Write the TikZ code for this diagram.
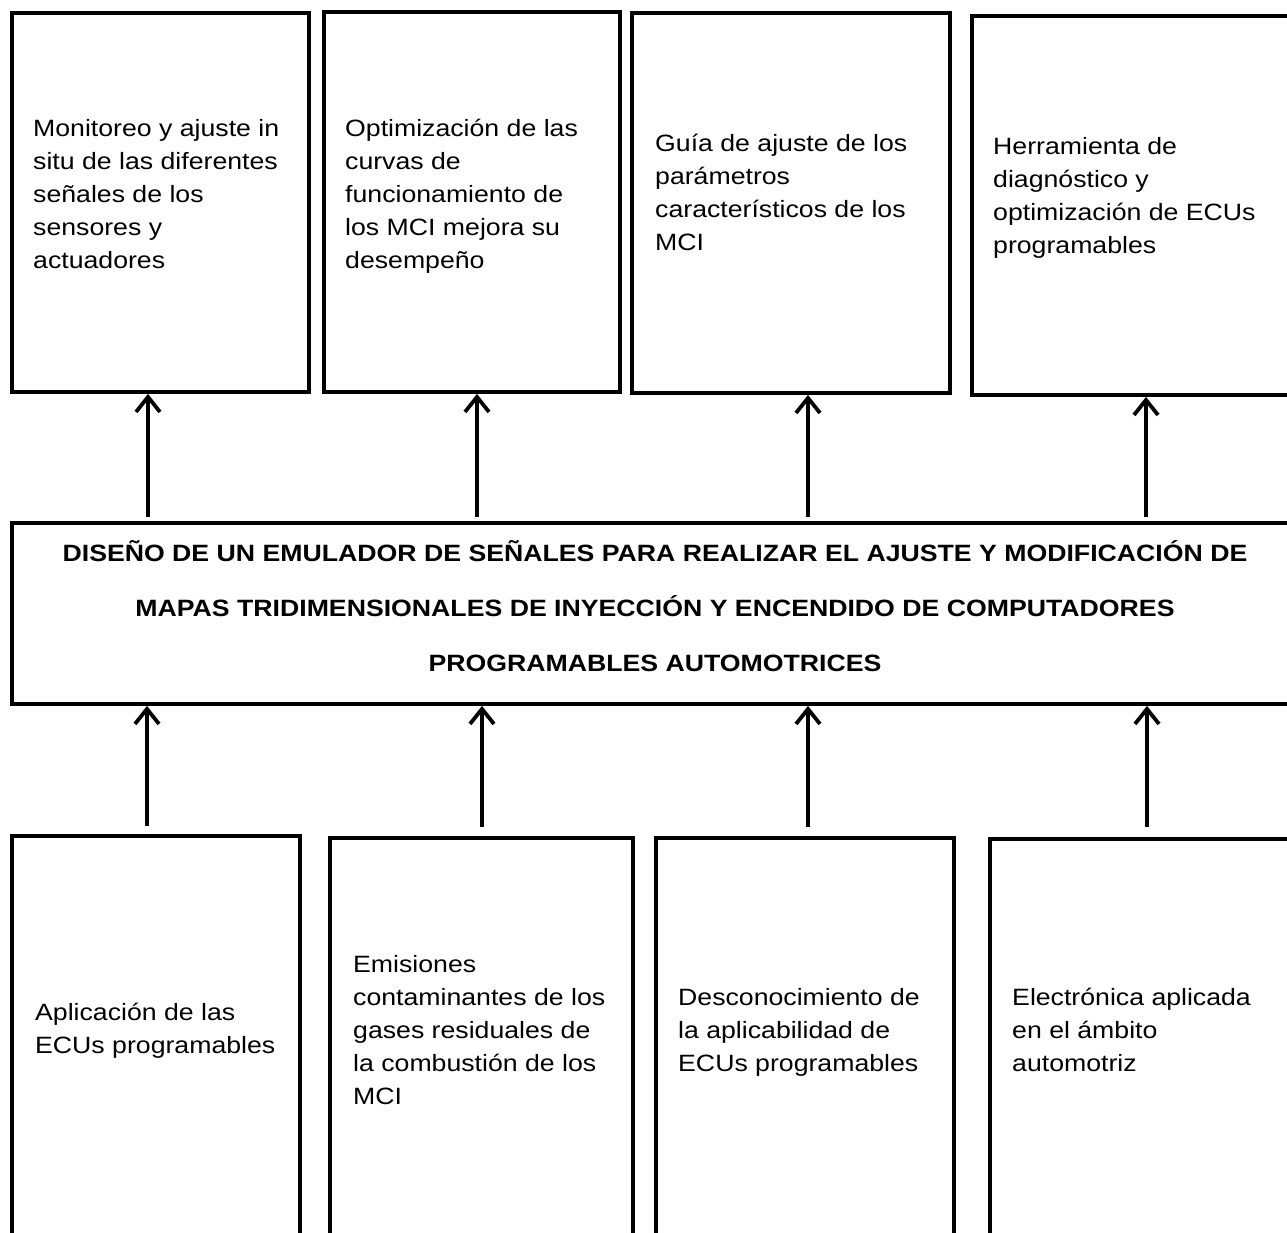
\documentclass[tikz,border=0pt]{standalone}
\usepackage{fontspec}
\setmainfont{Liberation Sans}[FakeStretch=1.13]
\usetikzlibrary{arrows.meta}
\tikzset{
  box/.style={draw=black, line width=3.8pt, fill=none, inner sep=0pt},
  txt/.style={anchor=north west, align=left, inner sep=0pt, font=\fontsize{23.6}{33}\selectfont},
  ttl/.style={anchor=north, align=center, inner sep=0pt, font=\fontsize{23.6}{55}\selectfont\bfseries},
  arr/.style={line width=3.8pt, -{Straight Barb[length=15pt,width=24pt,line width=3.8pt]}}
}
\begin{document}
\begin{tikzpicture}[x=1pt,y=-1pt]
\useasboundingbox (0,0) rectangle (1287,1233);
% top boxes
\node[box, minimum width=297pt, minimum height=379pt] (t1) at (160.5,202.5) {};
\node[box, minimum width=296pt, minimum height=380pt] (t2) at (472,202) {};
\node[box, minimum width=318pt, minimum height=380pt] (t3) at (791,203) {};
\node[box, minimum width=330pt, minimum height=379pt] (t4) at (1137,205.5) {};
% middle box
\node[box, minimum width=1290pt, minimum height=181pt] (m) at (657,613.5) {};
% bottom boxes
\node[box, minimum width=288pt, minimum height=420pt] (b1) at (156,1046) {};
\node[box, minimum width=303pt, minimum height=420pt] (b2) at (481.5,1048) {};
\node[box, minimum width=298pt, minimum height=420pt] (b3) at (805,1048) {};
\node[box, minimum width=320pt, minimum height=420pt] (b4) at (1150,1049) {};
% texts
\node[txt] (t1x) at (33,136-23.1) {\strut Monitoreo y ajuste in\\situ de las diferentes\\señales de los\\sensores y\\actuadores};
\node[txt] (t2x) at (345,136-23.1) {\strut Optimización de las\\curvas de\\funcionamiento de\\los MCI mejora su\\desempeño};
\node[txt] (t3x) at (655,151-23.1) {\strut Guía de ajuste de los\\parámetros\\característicos de los\\MCI};
\node[txt] (t4x) at (993,154-23.1) {\strut Herramienta de\\diagnóstico y\\optimización de ECUs\\programables};
\node[ttl] (mx) at (655,561-38.5) {\strut DISEÑO DE UN EMULADOR DE SEÑALES PARA REALIZAR EL AJUSTE Y MODIFICACIÓN DE\\MAPAS TRIDIMENSIONALES DE INYECCIÓN Y ENCENDIDO DE COMPUTADORES\\PROGRAMABLES AUTOMOTRICES};
\node[txt] (b1x) at (35,1020-23.1) {\strut Aplicación de las\\ECUs programables};
\node[txt] (b2x) at (353,972-23.1) {\strut Emisiones\\contaminantes de los\\gases residuales de\\la combustión de los\\MCI};
\node[txt] (b3x) at (678,1005-23.1) {\strut Desconocimiento de\\la aplicabilidad de\\ECUs programables};
\node[txt] (b4x) at (1012,1005-23.1) {\strut Electrónica aplicada\\en el ámbito\\automotriz};
% arrow positions
\coordinate (u1) at (148,0);
\coordinate (u2) at (477,0);
\coordinate (u3) at (808,0);
\coordinate (u4) at (1146,0);
\coordinate (d1) at (147,0);
\coordinate (d2) at (482,0);
\coordinate (d3) at (808,0);
\coordinate (d4) at (1147,0);
% arrows up to top boxes
\draw[arr, shorten <=4pt] (u1 |- m.north) -- (u1 |- t1.south);
\draw[arr, shorten <=4pt] (u2 |- m.north) -- (u2 |- t2.south);
\draw[arr, shorten <=4pt] (u3 |- m.north) -- (u3 |- t3.south);
\draw[arr, shorten <=4pt] (u4 |- m.north) -- (u4 |- t4.south);
% arrows from bottom boxes
\draw[arr, shorten <=8pt] (d1 |- b1.north) -- (d1 |- m.south);
\draw[arr, shorten <=9pt] (d2 |- b2.north) -- (d2 |- m.south);
\draw[arr, shorten <=9pt] (d3 |- b3.north) -- (d3 |- m.south);
\draw[arr, shorten <=10pt] (d4 |- b4.north) -- (d4 |- m.south);
\end{tikzpicture}
\end{document}
